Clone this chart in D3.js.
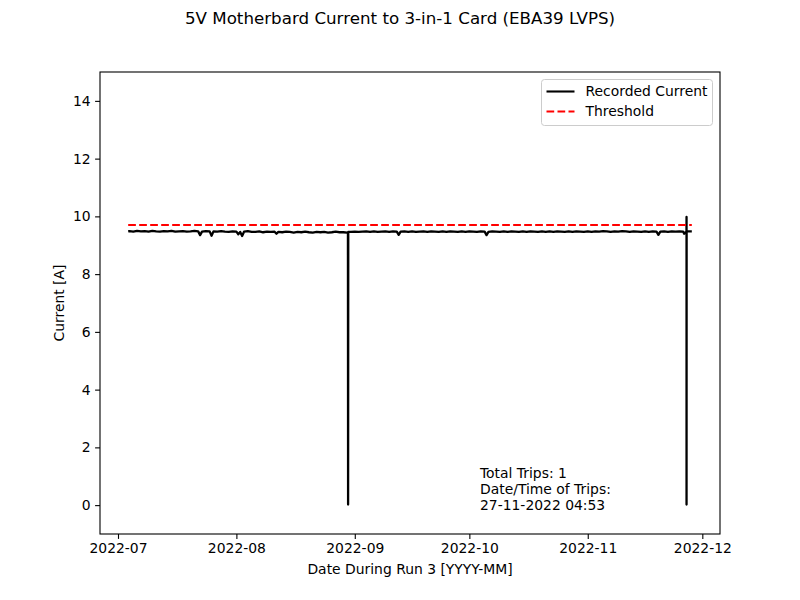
<!DOCTYPE html>
<html>
<head>
<meta charset="utf-8">
<script src="https://cdn.jsdelivr.net/npm/d3@7"></script>
<style>
  body { margin: 0; background: #fff; }
  svg text { font-family: "DejaVu Sans", sans-serif; fill: #000; }
</style>
</head>
<body>
<svg id="chart" width="800" height="600"></svg>
<script>

// Daily readings at midnight, 2022-07-04 .. 2022-11-27
var dailyStart = new Date(2022, 6, 4, 0, 0);
var dailyEnd = new Date(2022, 10, 28, 0, 0);
var dailyValues = [
  9.49, 9.47, 9.50, 9.48, 9.49, 9.47, 9.50, 9.48, 9.47, 9.49,
  9.48, 9.50, 9.47, 9.48, 9.49, 9.47, 9.48, 9.50, 9.48, 9.47,
  9.49, 9.48, 9.48, 9.47, 9.49, 9.47, 9.46, 9.48, 9.47, 9.46,
  9.47, 9.49, 9.46, 9.46, 9.48, 9.45, 9.47, 9.46, 9.47, 9.46,
  9.45, 9.47, 9.46, 9.44, 9.46, 9.45, 9.47, 9.45, 9.44, 9.46,
  9.45, 9.46, 9.44, 9.45, 9.47, 9.45, 9.45, 9.44, 9.46, 9.47,
  9.46, 9.47, 9.48, 9.46, 9.48, 9.46, 9.47, 9.48, 9.46, 9.48,
  9.47, 9.47, 9.48, 9.46, 9.48, 9.46, 9.47, 9.48, 9.46, 9.48,
  9.47, 9.46, 9.48, 9.46, 9.48, 9.47, 9.46, 9.48, 9.46, 9.48,
  9.47, 9.46, 9.48, 9.47, 9.46, 9.48, 9.47, 9.46, 9.48, 9.46,
  9.48, 9.47, 9.46, 9.48, 9.46, 9.48, 9.47, 9.46, 9.48, 9.46,
  9.48, 9.46, 9.48, 9.47, 9.46, 9.48, 9.46, 9.48, 9.47, 9.46,
  9.48, 9.46, 9.48, 9.47, 9.49, 9.48, 9.46, 9.48, 9.47, 9.49,
  9.48, 9.46, 9.48, 9.47, 9.46, 9.48, 9.46, 9.48, 9.47, 9.47,
  9.48, 9.46, 9.48, 9.47, 9.48, 9.47, 9.48
];

// Short dips in the recorded current
var dipTimes = [
  "2022-07-22T12:00", "2022-07-25T12:00", "2022-08-01T12:00", "2022-08-02T12:00",
  "2022-08-11T12:00", "2022-09-12T12:00", "2022-10-05T12:00", "2022-11-19T12:00",
  "2022-11-26T06:00"
];
var dipValues = [9.35, 9.33, 9.38, 9.32, 9.40, 9.36, 9.35, 9.36, 9.40];

// First and last samples, the dropout on 30 Aug and the trip at the end of Nov
var eventTimes = [
  "2022-07-03T16:00", "2022-08-30T05:00", "2022-08-30T06:00", "2022-08-30T07:00",
  "2022-11-26T20:30", "2022-11-26T20:50", "2022-11-26T20:53", "2022-11-26T21:20",
  "2022-11-28T06:00"
];
var eventValues = [9.48, 9.45, 0.02, 9.46, 9.47, 9.98, 0.02, 9.48, 9.48];

var threshold = 9.7;
var yTicks = [0, 2, 4, 6, 8, 10, 12, 14];
var annotationLines = ["Total Trips: 1", "Date/Time of Trips:", "27-11-2022 04:53"];

var vars = {
  width: 800,
  height: 600,
  margin: {top: 72, right: 80, bottom: 66, left: 100},
  title: "5V Motherbard Current to 3-in-1 Card (EBA39 LVPS)",
  xLabel: "Date During Run 3 [YYYY-MM]",
  yLabel: "Current [A]"
};

var parseTime = d3.timeParse("%Y-%m-%dT%H:%M");

var data = d3.timeDay.range(dailyStart, dailyEnd).map(function(t, i) {
  return {t: t, v: dailyValues[i]};
});
dipTimes.forEach(function(s, i) {
  data.push({t: parseTime(s), v: dipValues[i]});
});
eventTimes.forEach(function(s, i) {
  data.push({t: parseTime(s), v: eventValues[i]});
});
data.sort(function(a, b) { return a.t - b.t; });

var x0 = vars.margin.left,
    x1 = vars.width - vars.margin.right,
    y0 = vars.height - vars.margin.bottom,
    y1 = vars.margin.top;

// 5% padding on the time axis, like the original plot
var ext = d3.extent(data, function(d) { return d.t; });
var pad = (ext[1] - ext[0]) * 0.05;

var xScale = d3.scaleTime()
    .domain([new Date(+ext[0] - pad), new Date(+ext[1] + pad)])
    .range([x0, x1]);

var yScale = d3.scaleLinear()
    .domain([-1, 15])
    .range([y0, y1]);

var svg = d3.select("#chart");

svg.append("text")
    .attr("x", vars.width / 2)
    .attr("y", 24)
    .attr("text-anchor", "middle")
    .style("font-size", "16.7px")
    .text(vars.title);

svg.append("clipPath").attr("id", "plot-clip")
  .append("rect")
    .attr("x", x0).attr("y", y1)
    .attr("width", x1 - x0).attr("height", y0 - y1);

var plot = svg.append("g").attr("clip-path", "url(#plot-clip)");

var line = d3.line()
    .x(function(d) { return xScale(d.t); })
    .y(function(d) { return yScale(d.v); });

plot.append("path")
    .datum(data)
    .attr("fill", "none")
    .attr("stroke", "#000")
    .attr("stroke-width", 2.3)
    .attr("stroke-linejoin", "round")
    .attr("d", line);

plot.append("path")
    .datum([{t: ext[0], v: threshold}, {t: ext[1], v: threshold}])
    .attr("fill", "none")
    .attr("stroke", "#ff0000")
    .attr("stroke-width", 2.1)
    .attr("stroke-dasharray", "7.7,3.3")
    .attr("d", line);

// Axes
var xAxis = d3.axisBottom(xScale)
    .ticks(d3.timeMonth.every(1))
    .tickFormat(d3.timeFormat("%Y-%m"))
    .tickSize(4.9)
    .tickPadding(4.5)
    .tickSizeOuter(0);

var yAxis = d3.axisLeft(yScale)
    .tickValues(yTicks)
    .tickSize(4.9)
    .tickPadding(4.5)
    .tickSizeOuter(0);

var gx = svg.append("g")
    .attr("transform", "translate(0," + y0 + ")")
    .call(xAxis);

var gy = svg.append("g")
    .attr("transform", "translate(" + x0 + ",0)")
    .call(yAxis);

[gx, gy].forEach(function(g) {
  g.select(".domain").remove();
  g.selectAll(".tick line").attr("stroke", "#000").attr("stroke-width", 1.1);
  g.selectAll(".tick text")
      .style("font-size", "13.9px")
      .style("font-family", "DejaVu Sans, sans-serif")
      .attr("fill", "#000");
});

svg.append("rect")
    .attr("x", x0).attr("y", y1)
    .attr("width", x1 - x0).attr("height", y0 - y1)
    .attr("fill", "none")
    .attr("stroke", "#000")
    .attr("stroke-width", 1.1);

svg.append("text")
    .attr("x", (x0 + x1) / 2)
    .attr("y", 574)
    .attr("text-anchor", "middle")
    .style("font-size", "13.9px")
    .text(vars.xLabel);

svg.append("text")
    .attr("transform", "translate(64," + ((y0 + y1) / 2) + ") rotate(-90)")
    .attr("text-anchor", "middle")
    .style("font-size", "13.9px")
    .text(vars.yLabel);

// Annotation
svg.append("text")
    .attr("x", 480)
    .attr("y", 478)
    .style("font-size", "13.9px")
    .selectAll("tspan")
    .data(annotationLines)
  .enter().append("tspan")
    .attr("x", 480)
    .attr("dy", function(d, i) { return i ? 16 : 0; })
    .text(function(d) { return d; });

// Legend
var legendItems = [
  {label: "Recorded Current", color: "#000", dash: null},
  {label: "Threshold", color: "#ff0000", dash: "7.7,3.3"}
];

var legend = svg.append("g").attr("transform", "translate(541.5,79.5)");

legend.append("rect")
    .attr("width", 171)
    .attr("height", 46)
    .attr("rx", 3)
    .attr("fill", "#fff")
    .attr("fill-opacity", 0.8)
    .attr("stroke", "#cccccc")
    .attr("stroke-width", 1);

var li = legend.selectAll(".item")
    .data(legendItems)
  .enter().append("g")
    .attr("class", "item")
    .attr("transform", function(d, i) { return "translate(0," + (12 + i * 20) + ")"; });

li.append("line")
    .attr("x1", 5).attr("x2", 33)
    .attr("stroke", function(d) { return d.color; })
    .attr("stroke-width", 2.1)
    .attr("stroke-dasharray", function(d) { return d.dash; });

li.append("text")
    .attr("x", 44)
    .attr("dy", "0.35em")
    .style("font-size", "13.9px")
    .text(function(d) { return d.label; });

</script>
</body>
</html>
